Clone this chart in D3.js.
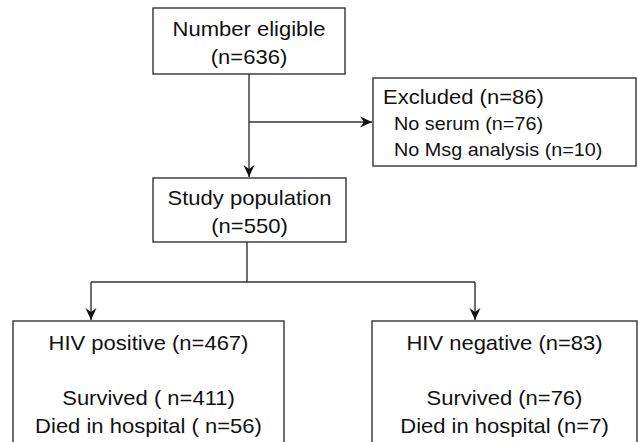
<!DOCTYPE html>
<html>
<head>
<meta charset="utf-8">
<script src="https://cdn.jsdelivr.net/npm/d3@7"></script>
<style>
  html, body { margin: 0; padding: 0; background: #fff; }
  svg { display: block; }
  text { font-family: "Liberation Sans", Arial, Helvetica, sans-serif; fill: #111; }
</style>
</head>
<body>
<svg id="chart" width="638" height="442"></svg>
<script>
// ---- data ----
const boxTitles = ["Number eligible", "Excluded", "Study population", "HIV positive", "HIV negative"];
const boxCounts = [636, 86, 550, 467, 83];
const exclusionReasons = ["No serum", "No Msg analysis"];
const exclusionCounts = [76, 10];
const outcomeLabels = ["Survived", "Died in hospital"];
const hivPositiveOutcomes = [411, 56];
const hivNegativeOutcomes = [76, 7];

// ---- drawing ----
const svg = d3.select("#chart");
const stroke = "#333";
const sw = 1.4;
const sx = 1.1; // horizontal stretch of glyphs

const defs = svg.append("defs");
defs.append("marker")
  .attr("id", "arr")
  .attr("viewBox", "-12 -6 13 12")
  .attr("refX", 0).attr("refY", 0)
  .attr("markerUnits", "userSpaceOnUse")
  .attr("markerWidth", 13).attr("markerHeight", 12)
  .attr("orient", "auto")
  .append("path")
  .attr("d", "M0,0 L-12,-5.5 L-8,0 L-12,5.5 Z")
  .attr("fill", "#111");

function box(x, y, w, h) {
  svg.append("rect")
    .attr("x", x).attr("y", y).attr("width", w).attr("height", h)
    .attr("fill", "#fff").attr("stroke", stroke).attr("stroke-width", sw);
}
function txt(x, y, s, size, anchor) {
  svg.append("text")
    .attr("transform", `translate(${x},${y}) scale(${sx},1)`)
    .attr("text-anchor", anchor || "middle")
    .attr("font-size", size)
    .text(s);
}
function line(pts, arrow) {
  const p = svg.append("path")
    .attr("d", d3.line()(pts))
    .attr("fill", "none").attr("stroke", stroke).attr("stroke-width", sw);
  if (arrow) p.attr("marker-end", "url(#arr)");
}

// connectors
line([[249, 74], [249, 177]], true);
line([[249, 122], [372, 122]], true);
line([[247, 242], [247, 282]]);
line([[91, 282], [475, 282]]);
line([[91, 282], [91, 320]], true);
line([[475, 282], [475, 320]], true);

// Box 1: eligible
box(153, 8, 192, 66);
txt(249, 36, boxTitles[0], 20);
txt(249, 64, `(n=${boxCounts[0]})`, 20);

// Excluded
box(373, 78, 263, 88);
txt(383, 104, `${boxTitles[1]} (n=${boxCounts[1]})`, 20, "start");
exclusionReasons.forEach((r, i) => {
  txt(394, 130 + i * 26, `${r} (n=${exclusionCounts[i]})`, 18, "start");
});

// Study population
box(153, 178, 193, 64);
txt(249.5, 205, boxTitles[2], 20);
txt(249.5, 233, `(n=${boxCounts[2]})`, 20);

// HIV positive
box(13, 321, 271, 140);
txt(148.5, 350, `${boxTitles[3]} (n=${boxCounts[3]})`, 20);
txt(148.5, 405, `${outcomeLabels[0]} ( n=${hivPositiveOutcomes[0]})`, 20);
txt(148.5, 432.5, `${outcomeLabels[1]} ( n=${hivPositiveOutcomes[1]})`, 20);

// HIV negative
box(372, 321, 265, 140);
txt(504.5, 350, `${boxTitles[4]} (n=${boxCounts[4]})`, 20);
txt(504.5, 405, `${outcomeLabels[0]} (n=${hivNegativeOutcomes[0]})`, 20);
txt(504.5, 432.5, `${outcomeLabels[1]} (n=${hivNegativeOutcomes[1]})`, 20);
</script>
</body>
</html>
